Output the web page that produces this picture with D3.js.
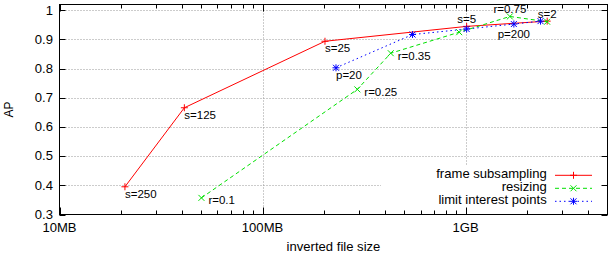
<!DOCTYPE html>
<html>
<head>
<meta charset="utf-8">
<script src="https://cdn.jsdelivr.net/npm/d3@7"></script>
<style>
  body { margin: 0; background: #fff; }
  text { font-family: "Liberation Sans", Arial, sans-serif; fill: #000; }
</style>
</head>
<body>
<div id="chart"></div>
<script>
// Series data: inverted file size in MB, AP
const frameSize = [21, 41.2, 203, 1012, 2523];
const frameAP = [0.395, 0.666, 0.894, 0.945, 0.963];
const frameLabels = ["s=250", "s=125", "s=25", "s=5", "s=2"];

const resizeSize = [50, 293, 428, 930, 1652, 2521];
const resizeAP = [0.357, 0.729, 0.853, 0.925, 0.979, 0.961];
const resizeLabels = ["r=0.1", "r=0.25", "r=0.35", "", "r=0.75", ""];

const pointsSize = [230, 548, 1012, 1729, 2339];
const pointsAP = [0.803, 0.917, 0.936, 0.953, 0.963];
const pointsLabels = ["p=20", "", "", "p=200", ""];

const seriesNames = ["frame subsampling", "resizing", "limit interest points"];
const xTickValues = [10, 100, 1000];
const xTickLabels = ["10MB", "100MB", "1GB"];
const yTickValues = [0.3, 0.4, 0.5, 0.6, 0.7, 0.8, 0.9, 1];

// Where each label sits relative to its point (styling only)
const frameLabelPos = ["below", "below", "below", "above", "above"];
const resizeLabelPos = ["right", "right", "right", "", "above", ""];
const pointsLabelPos = ["below", "", "", "belowc", ""];

const width = 609, height = 253;
const plot = { left: 59.5, right: 607.5, top: 4.5, bottom: 214.5 };

const svg = d3.select("#chart").append("svg")
  .attr("width", width)
  .attr("height", height);

const x = d3.scaleLog().domain([10, 5000]).range([plot.left, plot.right]);
const y = d3.scaleLinear().domain([0.3, 1.02]).range([plot.bottom, plot.top]);

// Grid lines (dotted grey)
const grid = svg.append("g").attr("stroke", "#999").attr("stroke-dasharray", "1,2");
grid.selectAll("line.gx").data(xTickValues.slice(1)).enter().append("line")
  .attr("x1", (d) => Math.round(x(d)) + 0.5).attr("x2", (d) => Math.round(x(d)) + 0.5)
  .attr("y1", plot.top).attr("y2", plot.bottom);
grid.selectAll("line.gy").data(yTickValues.slice(1)).enter().append("line")
  .attr("y1", (d) => Math.round(y(d)) + 0.5).attr("y2", (d) => Math.round(y(d)) + 0.5)
  .attr("x1", plot.left).attr("x2", plot.right);

// Legend background hides the grid behind it
svg.append("rect")
  .attr("x", 381).attr("y", 166).attr("width", 226).attr("height", 48)
  .attr("fill", "#fff");

// Marker shapes
function marker(g, type, color) {
  const s = 3.5;
  g.attr("stroke", color).attr("stroke-width", 1).attr("fill", "none");
  if (type === "plus" || type === "star") {
    g.append("line").attr("x1", -s).attr("x2", s).attr("y1", 0).attr("y2", 0);
    g.append("line").attr("x1", 0).attr("x2", 0).attr("y1", -s).attr("y2", s);
  }
  if (type === "cross" || type === "star") {
    const c = s * 0.85;
    g.append("line").attr("x1", -c).attr("x2", c).attr("y1", -c).attr("y2", c);
    g.append("line").attr("x1", -c).attr("x2", c).attr("y1", c).attr("y2", -c);
  }
}

const series = [
  { sizes: frameSize, ap: frameAP, labels: frameLabels, pos: frameLabelPos, color: "#ff0000", dash: null, mark: "plus" },
  { sizes: resizeSize, ap: resizeAP, labels: resizeLabels, pos: resizeLabelPos, color: "#00e000", dash: "4,3", mark: "cross" },
  { sizes: pointsSize, ap: pointsAP, labels: pointsLabels, pos: pointsLabelPos, color: "#0000ff", dash: "1.5,3", mark: "star" }
];

const line = d3.line().x((d) => x(d[0])).y((d) => y(d[1]));

series.forEach((s) => {
  const pts = s.sizes.map((v, i) => [v, s.ap[i]]);
  svg.append("path")
    .attr("d", line(pts))
    .attr("fill", "none")
    .attr("stroke", s.color)
    .attr("stroke-width", 1)
    .attr("stroke-dasharray", s.dash);
  pts.forEach((p) => {
    marker(svg.append("g").attr("transform", `translate(${x(p[0])},${y(p[1])})`), s.mark, s.color);
  });
  // Point labels
  pts.forEach((p, i) => {
    if (!s.labels[i]) return;
    const pos = s.pos[i];
    let dx = 0, dy = 11, anchor = "start";
    if (pos === "right") { dx = 7; dy = 6.5; }
    if (pos === "above") { dy = -3; anchor = "middle"; }
    if (pos === "belowc") { dy = 14; anchor = "middle"; }
    svg.append("text")
      .attr("x", x(p[0]) + dx)
      .attr("y", y(p[1]) + dy)
      .attr("text-anchor", anchor)
      .attr("font-size", "11.5px")
      .text(s.labels[i]);
  });
});

// Text with a slight horizontal stretch, like the reference
function stretchedText(tx, ty, str, anchor) {
  return svg.append("text")
    .attr("transform", `translate(${tx},${ty}) scale(1.09,1)`)
    .attr("text-anchor", anchor)
    .attr("font-size", "12px")
    .text(str);
}

// Border box
svg.append("rect")
  .attr("x", plot.left).attr("y", plot.top)
  .attr("width", plot.right - plot.left).attr("height", plot.bottom - plot.top)
  .attr("fill", "none").attr("stroke", "#000").attr("stroke-width", 1);

// Tick marks, mirrored on top and right
const ticks = svg.append("g").attr("stroke", "#000").attr("stroke-width", 1);
const minorX = [];
[10, 100, 1000].forEach((dec) => {
  for (let k = 2; k <= 9; k++) if (dec * k < 5000) minorX.push(dec * k);
});
minorX.forEach((v) => {
  const px = Math.round(x(v)) + 0.5;
  ticks.append("line").attr("x1", px).attr("x2", px).attr("y1", plot.bottom).attr("y2", plot.bottom - 4);
  ticks.append("line").attr("x1", px).attr("x2", px).attr("y1", plot.top).attr("y2", plot.top + 4);
});
xTickValues.forEach((v) => {
  const px = Math.round(x(v)) + 0.5;
  ticks.append("line").attr("x1", px).attr("x2", px).attr("y1", plot.bottom).attr("y2", plot.bottom - 7);
  ticks.append("line").attr("x1", px).attr("x2", px).attr("y1", plot.top).attr("y2", plot.top + 7);
});
yTickValues.forEach((v) => {
  const py = Math.round(y(v)) + 0.5;
  ticks.append("line").attr("x1", plot.left).attr("x2", plot.left + 6).attr("y1", py).attr("y2", py);
  ticks.append("line").attr("x1", plot.right).attr("x2", plot.right - 6).attr("y1", py).attr("y2", py);
});

// Tick labels
xTickValues.forEach((v, i) => stretchedText(x(v), 232, xTickLabels[i], "middle"));
yTickValues.forEach((v) => stretchedText(53, y(v) + 4.3, d3.format("")(v), "end"));

// Axis titles
stretchedText((plot.left + plot.right) / 2, 251, "inverted file size", "middle");
svg.append("text")
  .attr("transform", `translate(13,${(plot.top + plot.bottom) / 2}) rotate(-90)`)
  .attr("text-anchor", "middle")
  .attr("font-size", "12px")
  .text("AP");

// Legend
series.forEach((s, i) => {
  const by = 178.3 + i * 13;
  stretchedText(546.7, by, seriesNames[i], "end");
  svg.append("line")
    .attr("x1", 555).attr("x2", 592).attr("y1", by - 3).attr("y2", by - 3)
    .attr("stroke", s.color).attr("stroke-width", 1).attr("stroke-dasharray", s.dash);
  marker(svg.append("g").attr("transform", `translate(573.5,${by - 3})`), s.mark, s.color);
});
</script>
</body>
</html>
